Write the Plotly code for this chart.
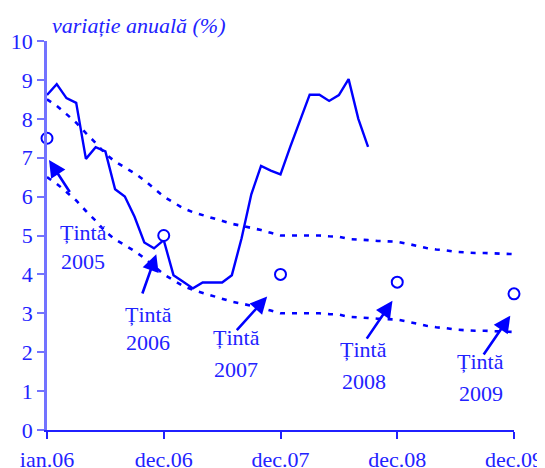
import plotly.graph_objects as go

# month index: 0 = position of first label ("ian.06"), 12 per year
tick_vals = [0, 12, 24, 36, 48]
tick_text = ["ian.06", "dec.06", "dec.07", "dec.08", "dec.09"]

# annual CPI (%) monthly
cpi = [8.61, 8.89, 8.53, 8.41, 6.97, 7.27, 7.16, 6.19, 6.00, 5.48, 4.82, 4.67,
       4.88, 3.98, 3.81, 3.64, 3.79, 3.79, 3.79, 3.98, 4.93, 6.06, 6.79, 6.67,
       6.57, 7.28, 7.95, 8.62, 8.62, 8.46, 8.61, 9.02, 8.00, 7.28]

# target band (upper / lower), monthly
band_upper = [8.50, 8.33, 8.12, 7.90, 7.63, 7.38, 7.10, 6.90, 6.75, 6.60, 6.42, 6.20,
              6.00, 5.85, 5.70, 5.60, 5.52, 5.44, 5.36, 5.30, 5.25, 5.20, 5.14, 5.07,
              5.00, 5.00, 5.00, 5.00, 5.00, 4.98, 4.97, 4.91, 4.90, 4.88, 4.86, 4.85,
              4.84, 4.79, 4.73, 4.68, 4.64, 4.62, 4.58, 4.56, 4.55, 4.55, 4.54, 4.53, 4.52]
band_lower = [6.50, 6.33, 6.12, 5.90, 5.63, 5.38, 5.10, 4.90, 4.75, 4.60, 4.42, 4.20,
              4.00, 3.85, 3.70, 3.60, 3.52, 3.44, 3.36, 3.30, 3.25, 3.20, 3.14, 3.07,
              3.00, 3.00, 3.00, 3.00, 3.00, 2.98, 2.97, 2.91, 2.90, 2.88, 2.86, 2.85,
              2.84, 2.79, 2.73, 2.68, 2.64, 2.62, 2.58, 2.56, 2.55, 2.55, 2.54, 2.53, 2.52]

# year-end targets
target_x = [0, 12, 24, 36, 48]
target_val = [7.5, 5.0, 4.0, 3.8, 3.5]
target_years = ["2005", "2006", "2007", "2008", "2009"]

BLUE = "#0000ff"
TXT = "#2222ff"
FONT = "Liberation Serif, Times New Roman, serif"

fig = go.Figure()
bx = list(range(len(band_upper)))
for band in (band_upper, band_lower):
    fig.add_trace(go.Scatter(x=bx, y=band, mode="lines",
                             line=dict(color=BLUE, width=2.6, dash="5px,7px"),
                             hoverinfo="skip", showlegend=False))
fig.add_trace(go.Scatter(x=list(range(len(cpi))), y=cpi, mode="lines",
                         line=dict(color=BLUE, width=2.4), showlegend=False))
fig.add_trace(go.Scatter(x=target_x, y=target_val, mode="markers",
                         marker=dict(symbol="circle", size=11, color="white",
                                     line=dict(color=BLUE, width=2)),
                         showlegend=False, cliponaxis=False))

# label positions (data units): (x of text, y of "Țintă", y of year), arrow tail & tip
label_pos = [
    (3.7, 5.09, 4.32, (2.44, 6.08), (0.21, 6.94)),
    (10.4, 2.98, 2.24, (9.75, 3.47), (11.23, 4.52)),
    (19.44, 2.37, 1.55, (19.37, 2.53), (22.63, 3.43)),
    (32.58, 2.06, 1.25, (32.76, 2.31), (35.51, 3.32)),
    (44.6, 1.76, 0.93, (44.78, 1.90), (47.62, 2.94)),
]
for yr, (tx, ty1, ty2, tail, tip) in zip(target_years, label_pos):
    fig.add_annotation(x=tx, y=ty1, text="Țintă", showarrow=False,
                       font=dict(family=FONT, size=22, color=TXT))
    fig.add_annotation(x=tx, y=ty2, text=yr, showarrow=False,
                       font=dict(family=FONT, size=22, color=TXT))
    fig.add_annotation(x=tip[0], y=tip[1], ax=tail[0], ay=tail[1],
                       xref="x", yref="y", axref="x", ayref="y",
                       text="", showarrow=True, arrowhead=2, arrowsize=1.3,
                       arrowwidth=2.6, arrowcolor=BLUE, standoff=0)

fig.add_annotation(xref="paper", yref="paper", x=0.006, y=1.0386,
                   xanchor="left", yanchor="middle", showarrow=False,
                   text="<i>variație anuală (%)</i>",
                   font=dict(family=FONT, size=22, color=TXT))

# page has an 8px body margin, so the figure is 8px smaller than the window
fig.update_layout(
    width=537, height=460,
    margin=dict(l=39, r=31, t=33, b=38, autoexpand=False),
    paper_bgcolor="white", plot_bgcolor="white",
    font=dict(family=FONT, size=22, color=TXT),
    xaxis=dict(range=[0, 48], tickvals=tick_vals, ticktext=tick_text,
               automargin=False,
               showgrid=False, zeroline=False, showline=True, linecolor="#2020ff",
               linewidth=2, ticks="outside", ticklen=7, tickcolor="#2020ff",
               tickwidth=1.5, ticklabelstandoff=2),
    yaxis=dict(range=[0, 10], dtick=1, showgrid=False, zeroline=False,
               automargin=False,
               showline=True, linecolor="#7373ff", linewidth=2.5,
               ticks="outside", ticklen=7, tickcolor="#7373ff", tickwidth=1.5,
               ticklabelstandoff=0),
)
fig.write_html("out.html")
